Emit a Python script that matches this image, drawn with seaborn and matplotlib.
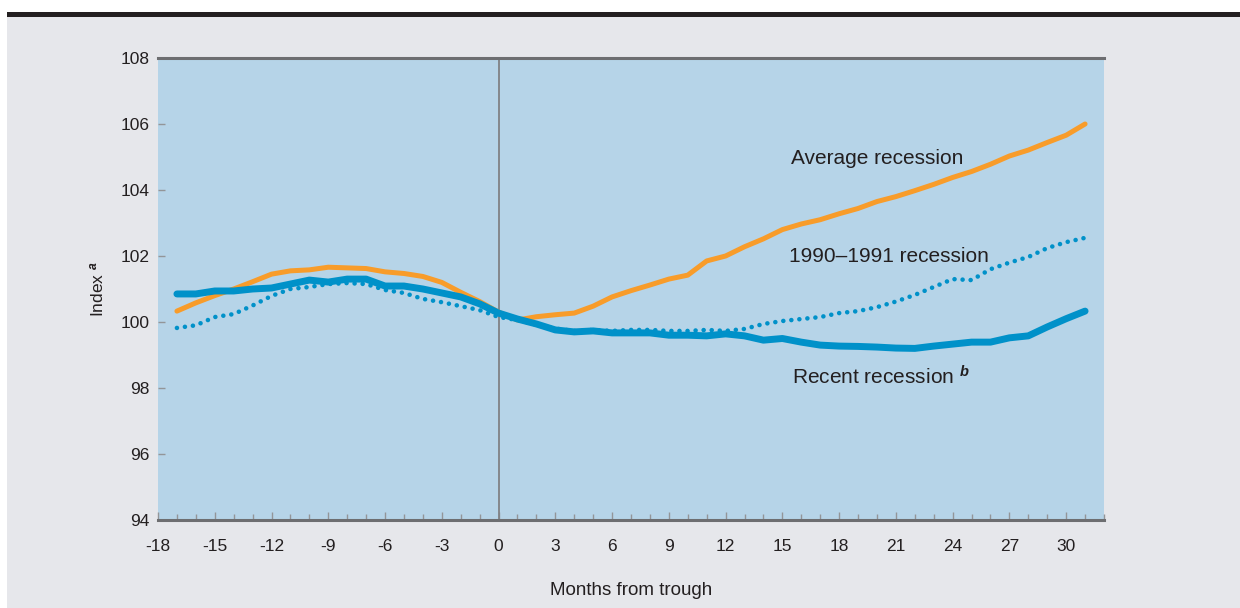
import numpy as np
import pandas as pd
import matplotlib.pyplot as plt
import seaborn as sns
from matplotlib.patches import Rectangle
from matplotlib.ticker import MultipleLocator

sns.set_theme(style="white")
plt.rcParams['font.family'] = ['Liberation Sans', 'DejaVu Sans']
plt.rcParams['axes.unicode_minus'] = False
plt.rcParams['mathtext.fontset'] = 'custom'
plt.rcParams['mathtext.rm'] = 'Liberation Sans'
plt.rcParams['mathtext.it'] = 'Liberation Sans:italic'
plt.rcParams['mathtext.bf'] = 'Liberation Sans:bold'
plt.rcParams['mathtext.bfit'] = 'Liberation Sans:italic:bold'

# months from trough
months = list(range(-17, 32))

# average recession
average = [100.33, 100.58, 100.80, 101.00, 101.22, 101.45, 101.55, 101.58, 101.66, 101.64,
           101.62, 101.52, 101.47, 101.38, 101.20, 100.90, 100.62, 100.30, 100.06, 100.16,
           100.22, 100.27, 100.48, 100.76, 100.95, 101.12, 101.30, 101.42, 101.85, 102.00,
           102.28, 102.52, 102.80, 102.97, 103.10, 103.28, 103.44, 103.65, 103.80, 103.98,
           104.17, 104.38, 104.56, 104.78, 105.03, 105.21, 105.44, 105.66, 106.00]

# 1990-1991 recession
r1990 = [99.82, 99.90, 100.15, 100.24, 100.50, 100.79, 101.00, 101.06, 101.15, 101.18,
         101.15, 100.97, 100.88, 100.70, 100.60, 100.48, 100.36, 100.15, 100.06, 99.91,
         99.80, 99.73, 99.76, 99.73, 99.76, 99.76, 99.73, 99.73, 99.76, 99.73,
         99.79, 99.94, 100.03, 100.09, 100.15, 100.27, 100.33, 100.45, 100.62, 100.82,
         101.06, 101.30, 101.27, 101.60, 101.80, 101.97, 102.24, 102.42, 102.55]

# recent recession
recent = [100.85, 100.85, 100.94, 100.94, 101.00, 101.03, 101.15, 101.27, 101.21, 101.30,
          101.30, 101.09, 101.09, 101.00, 100.88, 100.76, 100.55, 100.27, 100.09, 99.94,
          99.76, 99.70, 99.73, 99.67, 99.67, 99.67, 99.60, 99.60, 99.58, 99.64,
          99.58, 99.45, 99.50, 99.39, 99.30, 99.27, 99.26, 99.24, 99.21, 99.20,
          99.27, 99.33, 99.39, 99.39, 99.52, 99.58, 99.85, 100.10, 100.33]

df = pd.DataFrame({'month': months, 'average': average, 'r1990': r1990, 'recent': recent})

orange = '#f89c2a'
blue = '#0091c9'
spine_grey = '#6d6e71'
text_col = '#231f20'

fig = plt.figure(figsize=(12.4, 6.08), dpi=100, facecolor='white')
fig.patches.append(Rectangle((7 / 1240, 0), 1 - 7 / 1240, 591 / 608, transform=fig.transFigure,
                             facecolor='#e6e7eb', edgecolor='none', zorder=-10))
fig.patches.append(Rectangle((7 / 1240, 591 / 608), 1 - 7 / 1240, 5 / 608, transform=fig.transFigure,
                             facecolor=text_col, edgecolor='none', zorder=-10))

ax = fig.add_axes([158 / 1240, 88 / 608, 946 / 1240, 462 / 608])
ax.set_facecolor('#b6d4e8')

ax.axvline(0, color='#808285', lw=1.3, zorder=1)

sns.lineplot(data=df, x='month', y='r1990', ax=ax, color=blue, lw=3.3,
             linestyle=(0, (0.01, 1.75)), dash_capstyle='round', zorder=2)
sns.lineplot(data=df, x='month', y='average', ax=ax, color=orange, lw=3.6, zorder=3)
sns.lineplot(data=df, x='month', y='recent', ax=ax, color=blue, lw=5,
             solid_capstyle='round', zorder=4)

ax.set_xlim(-18, 32)
ax.set_ylim(94, 108)
ax.set_xticks(range(-18, 31, 3))
ax.xaxis.set_minor_locator(MultipleLocator(1))
ax.yaxis.set_major_locator(MultipleLocator(2))

for side in ['left', 'right']:
    ax.spines[side].set_visible(False)
for side in ['top', 'bottom']:
    ax.spines[side].set_visible(True)
    ax.spines[side].set_color(spine_grey)
    ax.spines[side].set_linewidth(2.2)

ax.tick_params(axis='x', which='major', direction='in', length=6, width=1, color='#939598',
               labelsize=12.5, pad=14, labelcolor=text_col, bottom=True)
ax.tick_params(axis='x', which='minor', direction='in', length=4, width=1, color='#939598',
               bottom=True)
ax.tick_params(axis='y', which='major', direction='in', length=5, width=1, color='#939598',
               labelsize=12.5, pad=6, labelcolor=text_col, left=True)

ax.set_xlabel('Months from trough', fontsize=13.5, color=text_col, labelpad=20)
ax.set_ylabel(r'Index $^{\mathbfit{a}}$', fontsize=12.5, color=text_col, labelpad=10)

ax.text(15.45, 104.95, 'Average recession', fontsize=15, color=text_col, va='center')
ax.text(15.35, 101.98, '1990\u20131991 recession', fontsize=15, color=text_col, va='center')
ax.text(15.5, 98.35, r'Recent recession $^{\mathbfit{b}}$', fontsize=15, color=text_col, va='center')

fig.savefig('out.png', dpi=100, facecolor=fig.get_facecolor())
